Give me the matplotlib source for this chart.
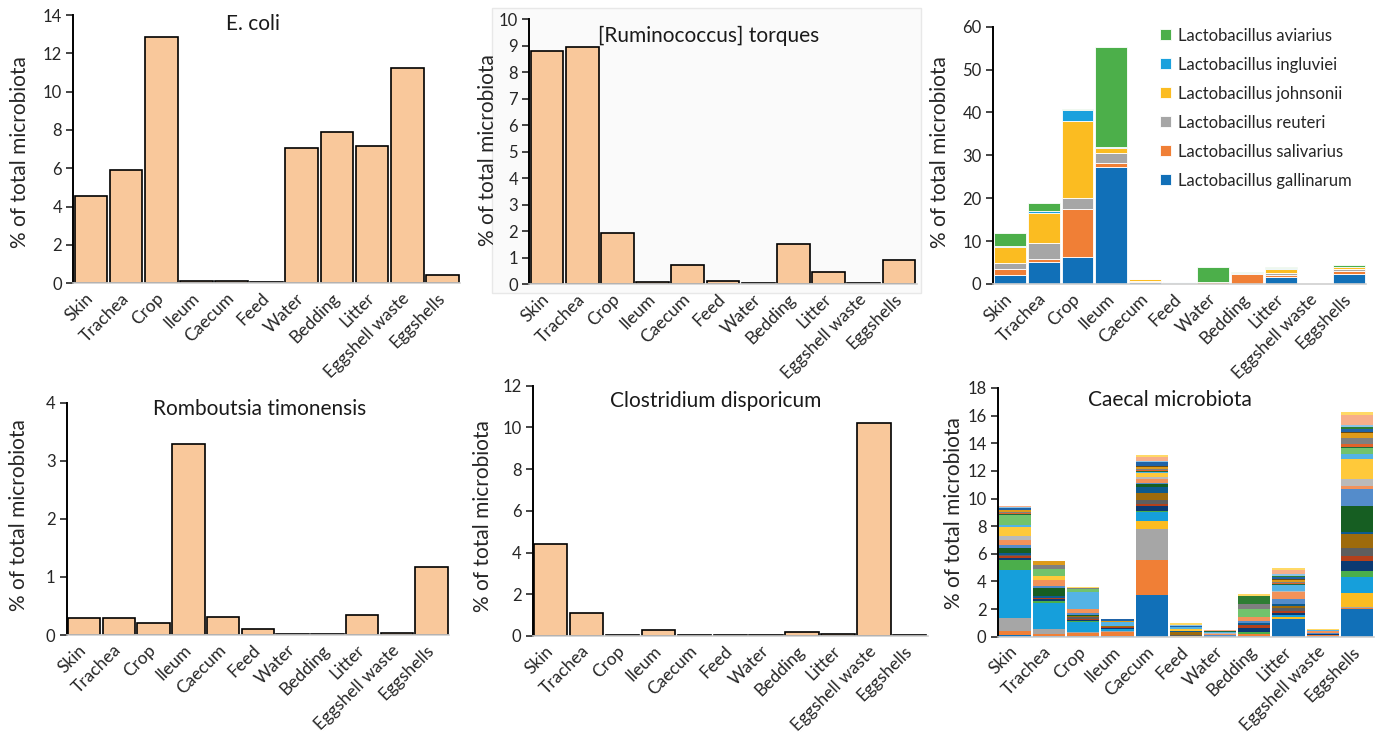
import numpy as np
import matplotlib
matplotlib.use("Agg")
import matplotlib.pyplot as plt
from matplotlib.patches import Rectangle

plt.rcParams['font.family'] = ['Lato', 'DejaVu Sans']

# categories (same for every panel)
sites = ["Skin", "Trachea", "Crop", "Ileum", "Caecum", "Feed", "Water",
         "Bedding", "Litter", "Eggshell waste", "Eggshells"]

# single-species panels (% of total microbiota)
ecoli = [4.56, 5.9, 12.83, 0.12, 0.12, 0.07, 7.06, 7.9, 7.18, 11.22, 0.42]
ruminococcus = [8.81, 8.93, 1.93, 0.1, 0.74, 0.14, 0.04, 1.51, 0.46, 0.05, 0.93]
romboutsia = [0.29, 0.29, 0.21, 3.29, 0.31, 0.11, 0.01, 0.01, 0.35, 0.04, 1.17]
clostridium = [4.39, 1.1, 0.03, 0.3, 0.03, 0.03, 0.03, 0.18, 0.1, 10.22, 0.05]

# Lactobacillus panel (stack order bottom -> top)
lacto_names = ["Lactobacillus gallinarum", "Lactobacillus salivarius",
               "Lactobacillus reuteri", "Lactobacillus johnsonii",
               "Lactobacillus ingluviei", "Lactobacillus aviarius"]
gallinarum = [2.18, 5.05, 6.3, 27.3, 0.5, 0.1, 0.05, 0.05, 1.7, 0.02, 2.25]
salivarius = [1.22, 0.7, 11.3, 0.9, 0.2, 0.02, 0.45, 2.3, 0.45, 0.01, 0.85]
reuteri = [1.4, 3.85, 2.4, 2.4, 0.1, 0.02, 0.02, 0.15, 0.45, 0.01, 0.45]
johnsonii = [3.75, 7.0, 17.9, 1.2, 0.3, 0.03, 0.03, 0.05, 1.0, 0.01, 0.45]
ingluviei = [0.31, 0.4, 2.7, 0.05, 0.05, 0.35, 0.02, 0.02, 0.1, 0.0, 0.05]
aviarius = [3.14, 1.8, 0.2, 23.5, 0.1, 0.03, 3.45, 0.3, 0.3, 0.01, 0.4]
lacto_colors = ["#1170b8", "#f07f36", "#a6a6a6", "#fbbc21", "#1aa1dd", "#4caf4a"]

# Caecal microbiota panel: one list per site, one value per taxon (bottom -> top)
caecal_skin = [0.10, 0.32, 0.94, 0.00, 3.46, 0.72, 0.12, 0.15, 0.08, 0.05, 0.15, 0.35, 0.20, 0.38,
               0.27, 0.68, 0.10, 0.75, 0.05, 0.08, 0.10, 0.10, 0.04, 0.10, 0.04, 0.04, 0.06, 0.04]
caecal_trachea = [0.03, 0.20, 0.36, 0.00, 1.86, 0.17, 0.10, 0.10, 0.00, 0.00, 0.10, 0.60, 0.17, 0.39,
                  0.05, 0.24, 0.05, 0.50, 0.00, 0.00, 0.26, 0.27, 0.00, 0.00, 0.00, 0.00, 0.00, 0.00]
caecal_crop = [0.05, 0.20, 0.10, 0.00, 0.72, 0.05, 0.10, 0.08, 0.10, 0.10, 0.00, 0.10, 0.12, 0.30,
               0.00, 0.00, 1.18, 0.24, 0.00, 0.00, 0.05, 0.05, 0.00, 0.00, 0.00, 0.00, 0.00, 0.05]
caecal_ileum = [0.05, 0.30, 0.05, 0.00, 0.15, 0.02, 0.06, 0.04, 0.05, 0.03, 0.02, 0.00, 0.04, 0.00,
                0.00, 0.00, 0.25, 0.00, 0.00, 0.00, 0.03, 0.02, 0.00, 0.17, 0.00, 0.00, 0.00, 0.02]
caecal_caecum = [3.00, 2.56, 2.22, 0.63, 0.58, 0.10, 0.34, 0.19, 0.29, 0.48, 0.43, 0.24, 0.10, 0.24,
                 0.19, 0.24, 0.07, 0.05, 0.05, 0.10, 0.07, 0.10, 0.05, 0.30, 0.05, 0.05, 0.29, 0.15]
caecal_feed = [0.00, 0.00, 0.00, 0.08, 0.00, 0.00, 0.00, 0.00, 0.05, 0.20, 0.10, 0.00, 0.00, 0.00,
               0.00, 0.10, 0.15, 0.00, 0.00, 0.00, 0.00, 0.00, 0.00, 0.12, 0.00, 0.07, 0.00, 0.10]
caecal_water = [0.05, 0.00, 0.00, 0.00, 0.00, 0.00, 0.00, 0.00, 0.00, 0.00, 0.00, 0.00, 0.08, 0.10,
                0.05, 0.00, 0.06, 0.00, 0.05, 0.00, 0.05, 0.00, 0.00, 0.00, 0.00, 0.00, 0.04, 0.02]
caecal_bedding = [0.05, 0.12, 0.00, 0.00, 0.00, 0.19, 0.29, 0.17, 0.00, 0.00, 0.14, 0.00, 0.19, 0.24,
                  0.00, 0.00, 0.00, 0.58, 0.00, 0.07, 0.31, 0.04, 0.00, 0.00, 0.58, 0.00, 0.00, 0.10]
caecal_litter = [1.26, 0.00, 0.00, 0.14, 0.17, 0.00, 0.17, 0.14, 0.17, 0.17, 0.14, 0.00, 0.34, 0.53,
                 0.10, 0.00, 0.39, 0.05, 0.05, 0.05, 0.10, 0.15, 0.05, 0.15, 0.10, 0.10, 0.30, 0.14]
caecal_eggwaste = [0.05, 0.05, 0.03, 0.00, 0.00, 0.00, 0.03, 0.00, 0.00, 0.00, 0.00, 0.00, 0.10, 0.15,
                   0.00, 0.00, 0.04, 0.00, 0.00, 0.00, 0.03, 0.00, 0.00, 0.00, 0.00, 0.00, 0.04, 0.02]
caecal_eggshells = [1.98, 0.08, 0.10, 0.99, 1.16, 0.43, 0.75, 0.34, 0.56, 1.04, 0.14, 1.88, 1.26, 0.17,
                    0.53, 1.45, 0.36, 0.43, 0.10, 0.22, 0.41, 0.39, 0.07, 0.17, 0.19, 0.12, 0.72, 0.22]
caecal_colors = ["#1170b8", "#f07f36", "#a6a6a6", "#fbbc21", "#169fdb", "#4bae4b", "#0b3a72",
                 "#b3401b", "#5e5e5e", "#9e6b0c", "#0d5a8e", "#165e22", "#548ccb", "#f2925a",
                 "#bababa", "#ffc93a", "#54b3e5", "#72c36c", "#1f6b3f", "#e2622a", "#7f7f7f",
                 "#de9b1a", "#6b4a10", "#1f63a8", "#2e7d32", "#8cc4e8", "#f7ae8a", "#ffd966"]

peach = "#f9c89b"
W, H = 1380, 737


def px_axes(left, right, top, bottom):
    return fig.add_axes([left / W, 1 - bottom / H, (right - left) / W, (bottom - top) / H])


def style(ax, ymax, step):
    ax.set_xlim(-0.5, 10.5)
    ax.set_ylim(0, ymax)
    ax.set_yticks(np.arange(0, ymax + step / 2, step))
    ax.set_xticks(np.arange(len(sites)))
    ax.set_xticklabels(sites, rotation=45, ha="right", va="center", rotation_mode="anchor",
                       fontsize=12.5, color="#262626")
    ax.tick_params(axis="x", length=0, pad=9)
    ax.tick_params(axis="y", direction="out", length=5, width=1.2, labelsize=12,
                   colors="#262626", pad=3)
    for s in ["top", "right"]:
        ax.spines[s].set_visible(False)
    ax.spines["left"].set_linewidth(1.4)
    ax.spines["bottom"].set_color("#d0d0d0")
    ax.spines["bottom"].set_linewidth(1.2)
    ax.patch.set_alpha(0)


def ylabel(x, y):
    fig.text(x / W, 1 - y / H, "% of total microbiota", rotation=90, ha="center", va="center",
             fontsize=15, color="#262626")


def title(x, y, t):
    fig.text(x / W, 1 - y / H, t, ha="center", va="center", fontsize=15, color="#1a1a1a")


fig = plt.figure(figsize=(13.8, 7.37), dpi=100)
fig.patch.set_facecolor("white")

# light background behind the second panel
fig.patches.append(Rectangle((492 / W, 1 - 293 / H), (921 - 492) / W, (293 - 8) / H,
                             transform=fig.transFigure, facecolor="#fafafa",
                             edgecolor="#e8e8e8", linewidth=1, zorder=-1))

x = np.arange(len(sites))

# E. coli
ax1 = px_axes(73.3, 460, 15, 283.3)
ax1.bar(x, ecoli, width=0.93, color=peach, edgecolor="black", linewidth=1.2)
style(ax1, 14, 2)
ylabel(20, 152)
title(253, 24, "E. coli")

# [Ruminococcus] torques
ax2 = px_axes(529.3, 916.7, 19, 284.3)
ax2.bar(x, ruminococcus, width=0.93, color=peach, edgecolor="black", linewidth=1.2)
style(ax2, 10, 1)
ylabel(488, 150)
title(709, 36, "[Ruminococcus] torques")

# Lactobacillus
ax3 = px_axes(992.7, 1365.7, 26.7, 284)
bottom = np.zeros(len(sites))
lacto = [gallinarum, salivarius, reuteri, johnsonii, ingluviei, aviarius]
handles = []
for vals, col, name in zip(lacto, lacto_colors, lacto_names):
    b = ax3.bar(x, vals, bottom=bottom, width=0.94, color=col, edgecolor="white",
                linewidth=0.6, label=name)
    handles.append(b)
    bottom += np.array(vals)
style(ax3, 60, 10)
ylabel(940, 152)
leg = ax3.legend(handles[::-1], lacto_names[::-1], loc="upper left",
                 bbox_to_anchor=(1153 / W, 1 - 21 / H), bbox_transform=fig.transFigure,
                 frameon=False, fontsize=12, handlelength=0.65, handleheight=0.65,
                 handletextpad=0.45, labelspacing=0.78, borderaxespad=0)
for t in leg.get_texts():
    t.set_color("#262626")

# Romboutsia timonensis
ax4 = px_axes(66.7, 449, 402.7, 635)
ax4.bar(x, romboutsia, width=0.93, color=peach, edgecolor="black", linewidth=1.2)
style(ax4, 4, 1)
ylabel(19.5, 515)
title(260, 409, "Romboutsia timonensis")

# Clostridium disporicum
ax5 = px_axes(532.7, 927.7, 385.7, 636)
ax5.bar(x, clostridium, width=0.93, color=peach, edgecolor="black", linewidth=1.2)
style(ax5, 12, 2)
ylabel(483, 516)
title(716, 401, "Clostridium disporicum")

# Caecal microbiota
ax6 = px_axes(997.7, 1374, 388, 636.7)
caecal = np.array([caecal_skin, caecal_trachea, caecal_crop, caecal_ileum, caecal_caecum,
                   caecal_feed, caecal_water, caecal_bedding, caecal_litter, caecal_eggwaste,
                   caecal_eggshells])
bottom = np.zeros(len(sites))
for k, col in enumerate(caecal_colors):
    ax6.bar(x, caecal[:, k], bottom=bottom, width=0.94, color=col, edgecolor="none")
    bottom += caecal[:, k]
style(ax6, 18, 2)
ylabel(953.5, 513)
title(1170, 400, "Caecal microbiota")

fig.savefig("out.png", dpi=100)
